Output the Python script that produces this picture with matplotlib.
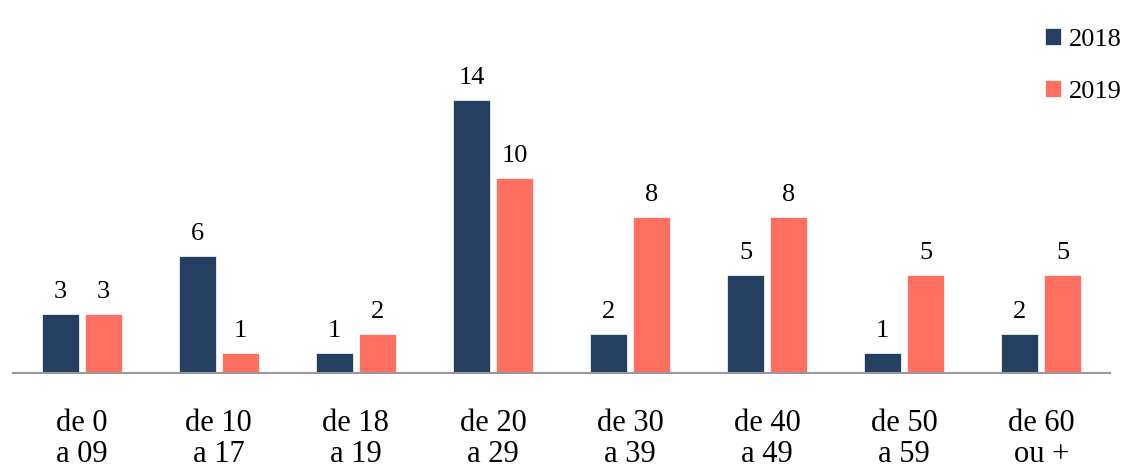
import matplotlib.pyplot as plt
import numpy as np

plt.rcParams['font.family'] = ['Liberation Serif', 'DejaVu Serif']

# faixas etarias
faixas = ['de 0\na 09', 'de 10\na 17', 'de 18\na 19', 'de 20\na 29',
          'de 30\na 39', 'de 40\na 49', 'de 50\na 59', 'de 60\nou +']
v2018 = [3, 6, 1, 14, 2, 5, 1, 2]
v2019 = [3, 1, 2, 10, 8, 8, 5, 5]

navy = '#253F60'
salmon = '#FF6F61'

fig = plt.figure(figsize=(11.24, 4.69), dpi=100)
ax = fig.add_axes([0.0116, 0.2047, 0.9759, 0.66])

x = np.arange(len(faixas))
w = 0.27
off = 0.157
b1 = ax.bar(x - off, v2018, w, color=navy, label='2018', edgecolor='white', linewidth=0.5)
b2 = ax.bar(x + off, v2019, w, color=salmon, label='2019', edgecolor='white', linewidth=0.5)

ax.bar_label(b1, padding=8, fontsize=19)
ax.bar_label(b2, padding=8, fontsize=19)

ax.set_xlim(-0.5, 7.5)
ax.set_ylim(0, 14 * 309.5 / 273)
ax.set_xticks(x)
ax.set_xticklabels(faixas, fontsize=22, linespacing=1.08)
ax.tick_params(axis='x', length=0, pad=26)
ax.set_yticks([])

for s in ['top', 'right', 'left']:
    ax.spines[s].set_visible(False)
ax.spines['bottom'].set_color('#999999')
ax.spines['bottom'].set_linewidth(1.5)

fig.legend(loc='upper right', bbox_to_anchor=(1.0, 0.945), frameon=False,
           fontsize=19, handlelength=0.6, handleheight=0.6, handletextpad=0.3,
           labelspacing=1.1, borderaxespad=0, borderpad=0.1)

plt.savefig('out.png', dpi=100)
